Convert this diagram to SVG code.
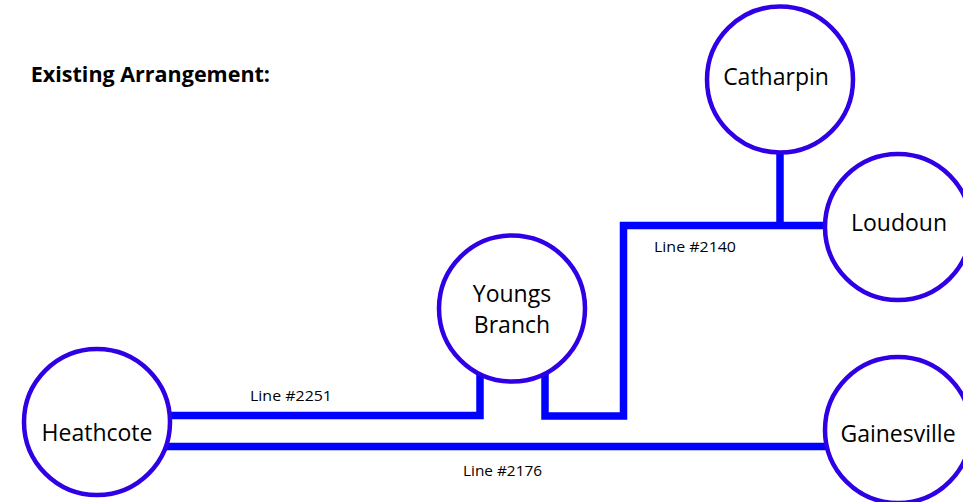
<svg xmlns="http://www.w3.org/2000/svg" width="963" height="502" viewBox="0 0 963 502">
<style>
.node{fill:#fff;stroke:#2F00E6;stroke-width:4.5}
.lbl{font-family:"Open Sans","Liberation Sans",sans-serif;font-size:23px;fill:#000;text-anchor:middle}
.ln{font-family:"Open Sans","Liberation Sans",sans-serif;font-size:14px;fill:#000}
.wire{fill:none;stroke:#0000FF;stroke-width:7.5;stroke-linejoin:miter;stroke-linecap:butt}
</style>
<rect width="963" height="502" fill="#fff"/>
<text x="270" y="82" text-anchor="end" font-family="'Open Sans','Liberation Sans',sans-serif" font-size="21.5" font-weight="bold">Existing Arrangement:</text>
<g id="connectors">
<path class="wire" d="M165 415.5 H480 V370"/>
<path class="wire" d="M545 370 V416 H623.5 V225.5 H835"/>
<path class="wire" d="M780 140 V226"/>
<path class="wire" d="M165 446.5 H835"/>
</g>
<g id="labels">
<text class="ln" x="250" y="401" textLength="82" lengthAdjust="spacingAndGlyphs">Line #2251</text>
<text class="ln" x="654" y="252" textLength="82" lengthAdjust="spacingAndGlyphs">Line #2140</text>
<text class="ln" x="463" y="476" textLength="79" lengthAdjust="spacingAndGlyphs">Line #2176</text>
</g>
<g id="heathcote">
<circle class="node" cx="97" cy="422" r="73"/>
<text class="lbl" x="97" y="441">Heathcote</text>
</g>
<g id="youngs-branch">
<circle class="node" cx="512" cy="308.5" r="73"/>
<text class="lbl" x="512" y="302">Youngs</text>
<text class="lbl" x="512" y="333">Branch</text>
</g>
<g id="catharpin">
<circle class="node" cx="780" cy="79.5" r="73"/>
<text class="lbl" x="776" y="85">Catharpin</text>
</g>
<g id="loudoun">
<circle class="node" cx="898" cy="227" r="73"/>
<text class="lbl" x="899" y="231">Loudoun</text>
</g>
<g id="gainesville">
<circle class="node" cx="898" cy="430" r="73"/>
<text class="lbl" x="898" y="442">Gainesville</text>
</g>
</svg>
